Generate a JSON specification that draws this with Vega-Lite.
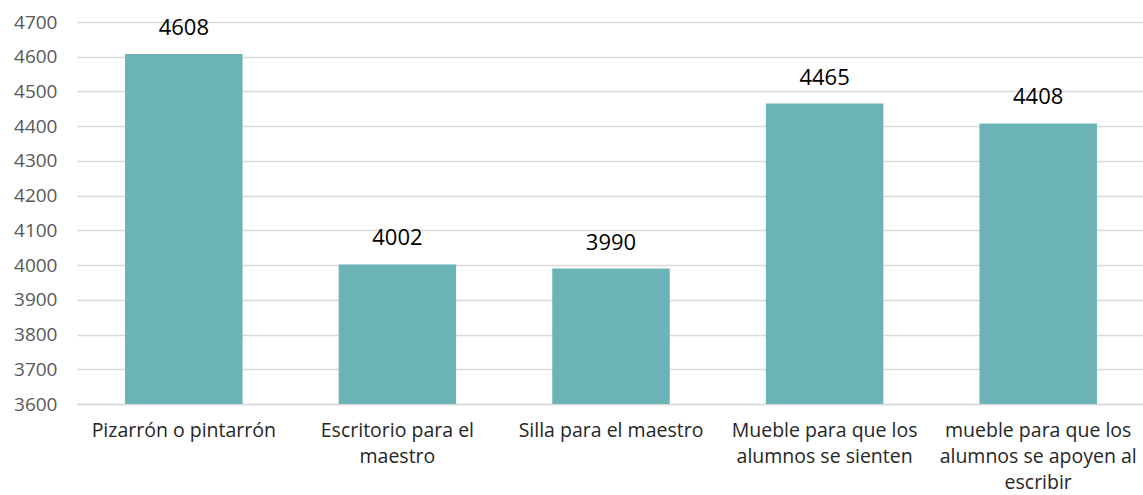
{
  "$schema": "https://vega.github.io/schema/vega-lite/v6.json",
  "autosize": {"type": "none"},
  "padding": {"left": 77, "top": 22, "right": 0, "bottom": 91},
  "width": 1068,
  "height": 382,
  "background": "white",
  "data": {
    "values": [
      {"item": "Pizarrón o pintarrón", "value": 4608},
      {"item": "Escritorio para el|maestro", "value": 4002},
      {"item": "Silla para el maestro", "value": 3990},
      {"item": "Mueble para que los|alumnos se sienten", "value": 4465},
      {"item": "mueble para que los|alumnos se apoyen al|escribir", "value": 4408}
    ]
  },
  "config": {
    "font": "Open Sans",
    "view": {"stroke": null}
  },
  "encoding": {
    "x": {
      "field": "item",
      "type": "nominal",
      "sort": null,
      "scale": {"paddingInner": 0.45, "paddingOuter": 0.225},
      "axis": {
        "title": null,
        "labelAngle": 0,
        "labelExpr": "split(datum.label, '|')",
        "labelFontSize": 19.5,
        "labelLimit": 400,
        "labelColor": "#262626",
        "labelLineHeight": 26,
        "labelPadding": 17,
        "ticks": false,
        "domainColor": "#d9d9d9",
        "domainWidth": 1.5,
        "grid": false
      }
    },
    "y": {
      "field": "value",
      "type": "quantitative",
      "scale": {"domain": [3600, 4700], "zero": false, "nice": false},
      "axis": {
        "title": null,
        "format": "d",
        "values": [3600, 3700, 3800, 3900, 4000, 4100, 4200, 4300, 4400, 4500, 4600, 4700],
        "labelFontSize": 19,
        "labelColor": "#595959",
        "labelPadding": 20,
        "ticks": false,
        "domain": false,
        "gridColor": "#d9d9d9",
        "gridWidth": 1.5
      }
    }
  },
  "layer": [
    {"mark": {"type": "bar", "color": "#6bb3b6", "clip": true}},
    {
      "mark": {"type": "text", "baseline": "bottom", "dy": -14, "fontSize": 22, "color": "#000000"},
      "encoding": {"text": {"field": "value", "type": "quantitative", "format": "d"}}
    }
  ]
}
